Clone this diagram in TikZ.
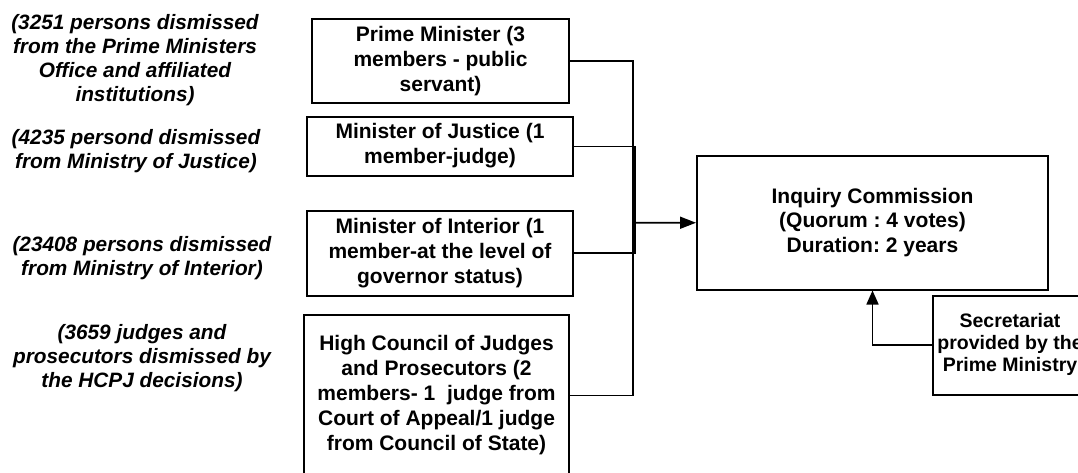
\documentclass[tikz,border=0pt]{standalone}
\usepackage{fontspec}
\setmainfont{Liberation Sans}
\usetikzlibrary{arrows.meta}
\begin{document}
\frenchspacing
\begin{tikzpicture}[x=1pt,y=-1pt,
  box/.style={draw, line width=2pt, inner sep=0pt, align=center,
    font=\bfseries\fontsize{21}{25}\selectfont},
  note/.style={inner sep=0pt, align=center,
    font=\bfseries\itshape\fontsize{20.8}{24}\selectfont},
  link/.style={line width=1.7pt},
  arr/.style={link, -{Triangle[length=16pt,width=12pt]}}]
\useasboundingbox (0,0) rectangle (1078,473);
\fill[white] (0,0) rectangle (1078,473);

% left notes
\node[note] (t1) at (135,61.2) {\strut(3251 persons dismissed\\from the Prime Ministers\\Office and affiliated\\institutions)\strut};
\node[note] (t2) at (136,151.5) {\strut(4235 persond dismissed\\from Ministry of Justice)\strut};
\node[note] (t3) at (142,258.9) {\strut(23408 persons dismissed\\from Ministry of Interior)\strut};
\node[note] (t4) at (142,358.5) {\strut(3659 judges and\\prosecutors dismissed by\\the HCPJ decisions)\strut};

% member boxes
\node[box, minimum width=257pt, minimum height=84.5pt] (pm) at (440.5,61.25)
  {\strut Prime Minister (3\\members - public\\servant)\strut};
\node[box, minimum width=266pt, minimum height=59pt] (jus) at (440,146.5)
  {\strut Minister of Justice (1\\member-judge)\strut};
\node[box, minimum width=266pt, minimum height=84.5pt] (int) at (440,253.25)
  {\strut Minister of Interior (1\\member-at the level of\\governor status)\strut};
\node[box, minimum width=265pt, minimum height=161pt,
  font=\bfseries\fontsize{21}{25.2}\selectfont] (hc) at (436.5,395.5)
  {\strut High Council of Judges\\and Prosecutors (2\\members- 1~ judge from\\Court of Appeal/1 judge\\from Council of State)\strut};

% commission and secretariat
\node[box, minimum width=351pt, minimum height=133.5pt,
  font=\bfseries\fontsize{21}{24.5}\selectfont] (inq) at (872.5,222.75)
  {\strut Inquiry Commission\\(Quorum : 4 votes)\\Duration: 2 years\strut};
\node[box, minimum width=154pt, minimum height=99.5pt,
  font=\bfseries\fontsize{19.5}{22}\selectfont] (sec) at (1010,345.25)
  {\strut Secretariat\\provided by the\\Prime Ministry\strut};

% connectors
\coordinate (j) at (633.3,222.7);
\draw[link] (pm.east) -| (j);
\draw[link] (jus.east) -| ([xshift=1.6pt]j);
\draw[link] (int.east) -| ([xshift=1.6pt]j);
\draw[link] (hc.east) -| (j);
\draw[arr] (j) -- (inq.west);
\draw[arr, -{Triangle[length=14pt,width=12pt]}] (sec.west) -| (inq.south);
\end{tikzpicture}
\end{document}
